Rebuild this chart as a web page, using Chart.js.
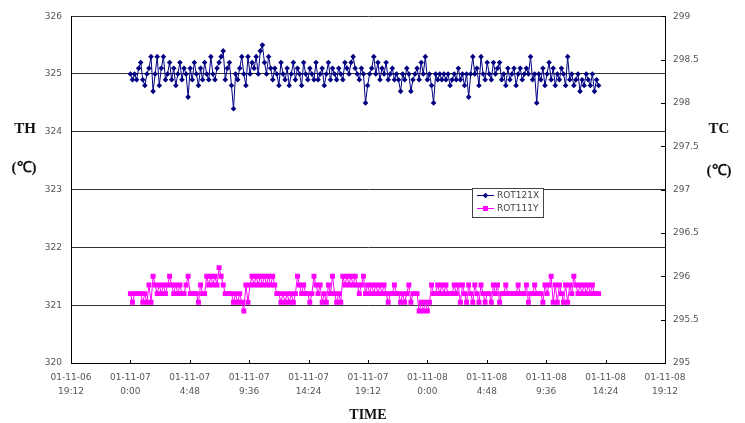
<!DOCTYPE html>
<html><head><meta charset="utf-8">
<script src="https://cdn.jsdelivr.net/npm/chart.js@4.4.1/dist/chart.umd.min.js"></script>
<style>html,body{margin:0;padding:0;background:#fff;}canvas{display:block}</style>
</head><body>
<canvas id="c" width="745" height="423"></canvas>
<script>
const seriesNames = ['ROT121X', 'ROT111Y'];

// ROT121X (TH, left axis), one reading every 10 minutes
const thValues = [
325.0,324.9,325.0,324.9,325.1,325.2,324.9,324.8,325.0,325.1,
325.3,324.7,325.0,325.3,324.8,325.1,325.3,324.9,325.0,325.2,
324.9,325.1,324.8,325.0,325.2,324.9,325.1,325.0,324.6,325.1,
324.9,325.2,325.0,324.8,325.1,324.9,325.2,325.0,324.9,325.3,
325.0,324.9,325.1,325.2,325.3,325.4,324.9,325.1,325.2,324.8,
324.4,325.0,324.9,325.1,325.3,325.0,324.8,325.3,325.0,325.2,
325.1,325.3,325.0,325.4,325.5,325.2,325.0,325.3,325.1,324.9,
325.1,325.0,324.8,325.2,325.0,324.9,325.1,324.8,325.0,325.2,
324.9,325.1,325.0,324.8,325.2,325.0,324.9,325.1,325.0,324.9,
325.2,324.9,325.0,325.1,324.8,325.0,325.2,324.9,325.1,325.0,
324.9,325.1,325.0,324.9,325.2,325.1,325.0,325.2,325.3,325.1,
325.0,324.9,325.1,325.0,324.5,324.8,325.0,325.1,325.3,325.0,
325.2,324.9,325.1,325.0,325.2,324.9,325.0,325.1,324.9,325.0,
324.9,324.7,325.0,324.9,325.1,325.0,324.7,324.9,325.0,325.1,
324.9,325.2,325.0,325.3,324.9,325.0,324.8,324.5,325.0,324.9,
325.0,324.9,325.0,324.9,325.0,324.8,324.9,325.0,324.9,325.1,
324.9,325.0,324.8,325.0,324.6,325.0,325.3,325.0,325.1,324.8,
325.3,325.0,324.9,325.2,325.0,324.9,325.2,325.0,325.1,325.2,
324.9,325.0,324.8,325.1,324.9,325.0,325.1,324.8,325.0,325.1,
324.9,325.0,325.1,325.0,325.3,324.9,325.0,324.5,325.0,324.9,
325.1,324.8,325.0,325.2,324.9,325.1,324.8,325.0,324.9,325.1,
325.0,324.8,325.3,324.9,325.0,324.8,324.9,325.0,324.7,324.9,
324.8,325.0,324.9,324.8,325.0,324.7,324.9,324.8
];

// ROT111Y (TC, right axis), one reading every 10 minutes
const tcValues = [
295.8,295.7,295.8,295.8,295.8,295.8,295.7,295.8,295.7,295.9,
295.7,296.0,295.9,295.8,295.9,295.8,295.9,295.8,295.9,296.0,
295.9,295.8,295.9,295.8,295.9,295.8,295.8,295.9,296.0,295.8,
295.8,295.8,295.8,295.7,295.9,295.8,295.8,296.0,295.9,296.0,
295.9,296.0,295.9,296.1,296.0,295.9,295.8,295.8,295.8,295.8,
295.7,295.8,295.7,295.8,295.7,295.6,295.9,295.7,295.9,296.0,
295.9,296.0,295.9,296.0,295.9,296.0,295.9,296.0,295.9,296.0,
295.9,295.8,295.8,295.7,295.8,295.7,295.8,295.7,295.8,295.7,
295.8,296.0,295.9,295.8,295.9,295.8,295.8,295.7,295.8,296.0,
295.9,295.8,295.9,295.7,295.8,295.7,295.9,295.8,296.0,295.8,
295.7,295.8,295.7,296.0,295.9,296.0,295.9,296.0,295.9,296.0,
295.9,295.8,295.9,296.0,295.8,295.9,295.8,295.9,295.8,295.9,
295.8,295.9,295.8,295.9,295.8,295.7,295.8,295.8,295.9,295.8,
295.8,295.7,295.8,295.7,295.8,295.9,295.7,295.8,295.8,295.8,
295.6,295.7,295.6,295.7,295.6,295.7,295.9,295.8,295.8,295.9,
295.8,295.9,295.8,295.9,295.8,295.8,295.8,295.9,295.8,295.9,
295.7,295.9,295.8,295.7,295.9,295.8,295.7,295.9,295.8,295.7,
295.9,295.8,295.7,295.8,295.8,295.7,295.9,295.8,295.9,295.7,
295.8,295.8,295.9,295.8,295.8,295.8,295.8,295.8,295.9,295.8,
295.8,295.8,295.9,295.7,295.8,295.8,295.9,295.8,295.8,295.8,
295.7,295.9,295.8,295.9,296.0,295.7,295.9,295.7,295.9,295.8,
295.7,295.9,295.7,295.9,295.8,296.0,295.9,295.8,295.9,295.8,
295.9,295.8,295.9,295.8,295.9,295.8,295.8,295.8
];

// sampling: every 10 minutes from 01-11-07 0:00 (in minutes)
const sampleMinutes = thValues.map((_, i) => i * 10);

const xTickMinutes = [-288, 0, 288, 576, 864, 1152, 1440, 1728, 2016, 2304, 2592];
const xTickLabels = [
  ['01-11-06', '19:12'], ['01-11-07', '0:00'], ['01-11-07', '4:48'], ['01-11-07', '9:36'],
  ['01-11-07', '14:24'], ['01-11-07', '19:12'], ['01-11-08', '0:00'], ['01-11-08', '4:48'],
  ['01-11-08', '9:36'], ['01-11-08', '14:24'], ['01-11-08', '19:12']
];
const thTicks = [320, 321, 322, 323, 324, 325, 326];
const tcTicks = [295, 295.5, 296, 296.5, 297, 297.5, 298, 298.5, 299];

const colors = ['#000080', '#FF00FF'];
const styles = ['rectRot', 'rect'];
const radii = [2.8, 3.5];

function drawMarker(ctx, style, r, x, y) {
  ctx.beginPath();
  if (style === 'rect') {
    const s = Math.SQRT1_2 * r;
    ctx.rect(x - s, y - s, 2 * s, 2 * s);
  } else {
    ctx.moveTo(x, y - r); ctx.lineTo(x + r, y); ctx.lineTo(x, y + r); ctx.lineTo(x - r, y); ctx.closePath();
  }
  ctx.fill();
}

const deco = {
  id: 'deco',
  afterDraw(chart) {
    const ctx = chart.ctx, a = chart.chartArea, xs = chart.scales.x, y1 = chart.scales.y1;
    ctx.save();
    ctx.strokeStyle = '#000'; ctx.lineWidth = 1;
    xTickMinutes.forEach(v => {
      const px = Math.round(xs.getPixelForValue(v)) + 0.5;
      ctx.beginPath(); ctx.moveTo(px, a.bottom); ctx.lineTo(px, a.bottom - 3); ctx.stroke();
    });
    tcTicks.forEach(v => {
      const py = Math.round(y1.getPixelForValue(v)) + 0.5;
      ctx.beginPath(); ctx.moveTo(a.right, py); ctx.lineTo(a.right - 4, py); ctx.stroke();
    });
    // axis titles
    ctx.fillStyle = '#111'; ctx.textAlign = 'center'; ctx.textBaseline = 'middle';
    ctx.font = 'bold 15px "Liberation Serif"';
    ctx.fillText('TH', 25, 129);
    ctx.fillText('(℃)', 24, 168);
    ctx.fillText('TC', 719, 129);
    ctx.fillText('(℃)', 719, 171);
    ctx.font = 'bold 14px "Liberation Serif"';
    ctx.fillText('TIME', (a.left + a.right) / 2, 415);
    // legend
    const lx = 472.5, ly = 188.5, lw = 71, lh = 29;
    ctx.fillStyle = '#fff'; ctx.fillRect(lx, ly, lw, lh);
    ctx.strokeStyle = '#444'; ctx.strokeRect(lx, ly, lw, lh);
    ctx.font = '9px "DejaVu Sans"'; ctx.textAlign = 'left';
    chart.data.datasets.forEach((ds, k) => {
      const yy = 195.5 + 13 * k;
      ctx.strokeStyle = ds.borderColor; ctx.lineWidth = 1;
      ctx.beginPath(); ctx.moveTo(477, yy); ctx.lineTo(494, yy); ctx.stroke();
      ctx.fillStyle = ds.backgroundColor;
      drawMarker(ctx, ds.pointStyle, ds.pointRadius, 485.5, yy);
      ctx.fillStyle = '#444';
      ctx.fillText(ds.label, 497, yy);
    });
    ctx.restore();
  }
};

const tickFont = { family: '"DejaVu Sans"', size: 9, lineHeight: 1.6 };

new Chart(document.getElementById('c'), {
  type: 'line',
  data: {
    datasets: [
      {
        label: seriesNames[0], yAxisID: 'y',
        data: sampleMinutes.map((m, i) => ({ x: m, y: thValues[i] })),
        borderColor: colors[0], backgroundColor: colors[0], borderWidth: 1,
        pointStyle: styles[0], pointRadius: radii[0], pointBorderWidth: 0, tension: 0
      },
      {
        label: seriesNames[1], yAxisID: 'y1',
        data: sampleMinutes.map((m, i) => ({ x: m, y: tcValues[i] })),
        borderColor: colors[1], backgroundColor: colors[1], borderWidth: 1,
        pointStyle: styles[1], pointRadius: radii[1], pointBorderWidth: 0, tension: 0
      }
    ]
  },
  options: {
    responsive: false, animation: false,
    layout: { padding: { top: 13, left: 0, right: 0, bottom: 0 } },
    plugins: { legend: { display: false }, tooltip: { enabled: false } },
    scales: {
      x: {
        type: 'linear', min: xTickMinutes[0], max: xTickMinutes[xTickMinutes.length - 1],
        afterBuildTicks: s => { s.ticks = xTickMinutes.map(v => ({ value: v })); },
        afterFit: s => { s.height = 60; },
        grid: { display: true, drawOnChartArea: false, drawTicks: false },
        border: { display: true, color: '#000', width: 1 },
        ticks: {
          autoSkip: false, maxRotation: 0, padding: 7, color: '#555', font: tickFont,
          callback: (v, i) => xTickLabels[i]
        }
      },
      y: {
        position: 'left', min: thTicks[0], max: thTicks[thTicks.length - 1],
        afterBuildTicks: s => { s.ticks = thTicks.map(v => ({ value: v })); },
        afterFit: s => { s.width = 71; },
        grid: { display: true, color: '#333', drawTicks: false },
        border: { display: true, color: '#000', width: 1 },
        ticks: { padding: 9, color: '#555', font: tickFont, callback: v => String(v) }
      },
      y1: {
        position: 'right', min: tcTicks[0], max: tcTicks[tcTicks.length - 1],
        afterBuildTicks: s => { s.ticks = tcTicks.map(v => ({ value: v })); },
        afterFit: s => { s.width = 80; },
        grid: { display: true, drawOnChartArea: false, drawTicks: false },
        border: { display: true, color: '#000', width: 1 },
        ticks: { padding: 8, color: '#555', font: tickFont,
          callback: v => Number.isInteger(v) ? String(v) : v.toFixed(1) }
      }
    }
  },
  plugins: [deco]
});
</script>
</body></html>
